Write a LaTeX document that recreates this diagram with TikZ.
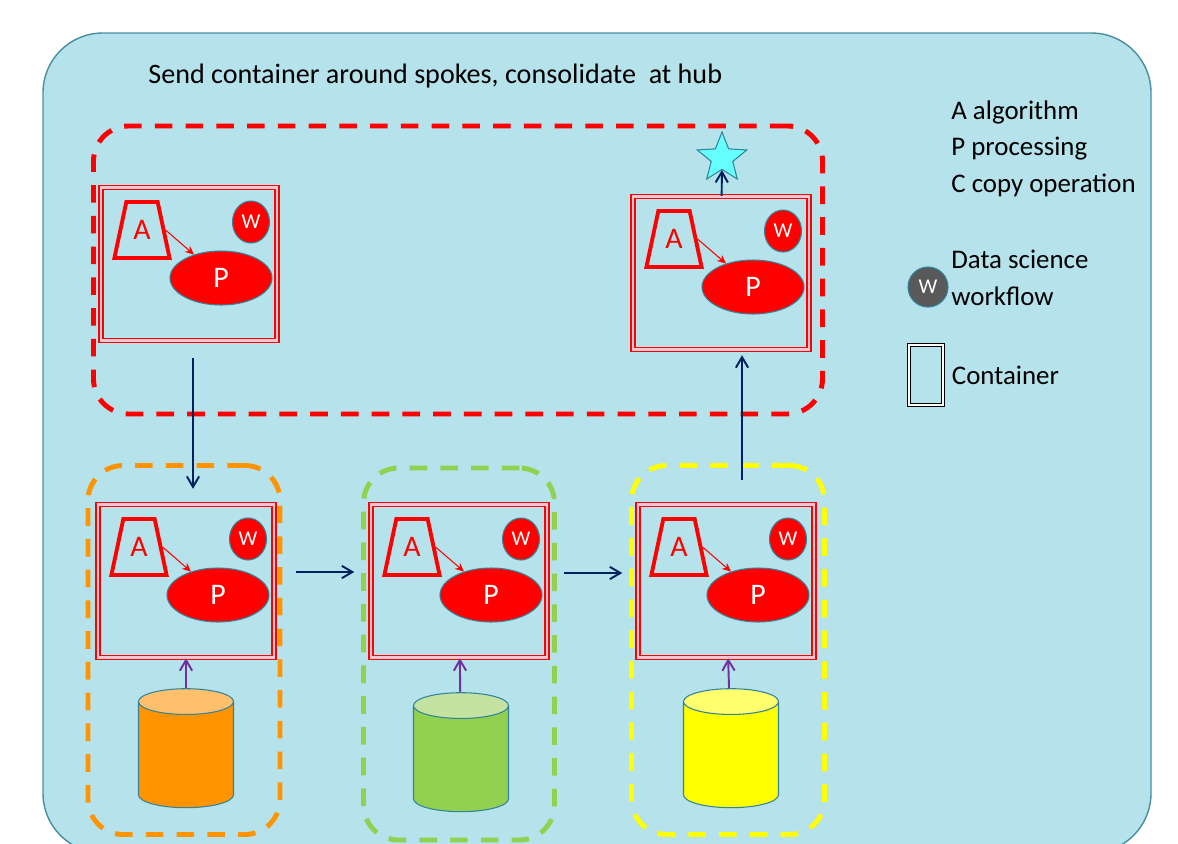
\documentclass[tikz,border=0pt]{standalone}
\usepackage{fontspec}
\setmainfont{Carlito}
\usetikzlibrary{
    shapes.geometric,
    arrows.meta,
    calc,
    positioning,
}
\definecolor{panelblue}{RGB}{181,226,235}
\definecolor{panelline}{RGB}{70,142,162}
\definecolor{tealline}{RGB}{49,132,155}
\definecolor{pinkgap}{RGB}{236,200,212}
\definecolor{navyarrow}{RGB}{0,32,96}
\definecolor{purplearrow}{RGB}{112,48,160}
\definecolor{spokeorange}{RGB}{255,148,0}
\definecolor{spokegreen}{RGB}{146,208,80}
\definecolor{spokeyellow}{RGB}{255,255,0}
\definecolor{goalcyan}{RGB}{102,255,255}
\definecolor{wgrey}{RGB}{89,89,89}
\newcommand{\px}{0.02cm}
\newcommand{\contwidth}{176*\px}
\newcommand{\contheight}{153*\px}
\tikzstyle{panel} = [
  draw=panelline,
  fill=panelblue,
  line width=0.8pt,
  rounded corners=34pt,
  minimum width=1108*\px,
  minimum height=820*\px,
]
\tikzstyle{frame} = [
  draw,
  line width=2.8pt,
  dash pattern=on 10pt off 7.5pt,
  rounded corners=20pt,
]
\tikzstyle{container} = [
  draw=red,
  double=pinkgap,
  double distance=1.4pt,
  line width=0.8pt,
  minimum width=\contwidth,
  minimum height=\contheight,
  inner sep=0pt,
]
\tikzstyle{algo} = [
  draw=red,
  line width=2.2pt,
  shape=trapezium,
  trapezium left angle=78,
  trapezium right angle=78,
  inner xsep=4pt,
  inner ysep=10.5pt,
  text=red,
  font=\fontsize{17}{17}\selectfont,
]
\tikzstyle{proc} = [
  shape=ellipse,
  fill=red,
  draw=tealline,
  line width=0.6pt,
  minimum width=102*\px,
  minimum height=54*\px,
  text=white,
  font=\fontsize{17}{17}\selectfont,
]
\tikzstyle{wflow} = [
  shape=ellipse,
  fill=red,
  draw=tealline,
  line width=0.6pt,
  inner sep=0pt,
  minimum width=37*\px,
  minimum height=42*\px,
  text=white,
  font=\fontsize{12}{12}\selectfont,
]
\tikzstyle{dbase} = [
  draw=tealline,
  line width=0.6pt,
  shape=cylinder,
  shape border rotate=90,
  aspect=2.2,
  cylinder uses custom fill,
  minimum width=95*\px,
  minimum height=119*\px,
]
\tikzstyle{goal} = [
  draw=tealline,
  fill=goalcyan,
  line width=0.6pt,
  shape=star,
  star points=5,
  star point ratio=2.3,
  minimum size=52*\px,
  inner sep=0pt,
]
\tikzstyle{algoarrow} = [-{Stealth[length=5pt,width=4.5pt]}, red, line width=0.6pt]
\tikzstyle{flowarrow} = [-{Straight Barb[length=6pt,width=7pt]}, navyarrow, line width=1.1pt]
\tikzstyle{dataarrow} = [-{Straight Barb[length=6pt,width=7pt]}, purplearrow, line width=1.1pt]
\tikzstyle{legendtext} = [align=left, inner sep=0pt, font=\fontsize{15.3}{21}\selectfont]
% container with algorithm, processing and workflow inside
\newcommand{\contbox}[3]{%
  \node[container] (#1) at (#2,#3) {};
  \node[algo] (#1-a) at ($(#1.center)+(-47,-34)$) {A};
  \node[proc] (#1-p) at ($(#1.center)+(32,14)$) {P};
  \node[wflow] (#1-w) at ($(#1.center)+(62,-42)$) {W};
  \draw[algoarrow] (#1-a.east) -- (#1-p);
}

\begin{document}
\begin{tikzpicture}[x=0.02cm, y=-0.02cm]
    \useasboundingbox (0,0) rectangle (1178,843);
    \clip (0,0) rectangle (1178,843);
    \node[panel] (panel) at (597,443) {};
    \node[legendtext, anchor=west, font=\fontsize{16}{20}\selectfont] (title) at (148,76)
      {Send container around spokes, consolidate\ \ at hub};

    % hub and spokes
    \node[frame, draw=red, minimum width=729*\px, minimum height=288*\px] (hub) at (458,270) {};
    \node[frame, draw=spokeorange, minimum width=192*\px, minimum height=369*\px] (spokeaframe) at (184,650) {};
    \node[frame, draw=spokegreen, minimum width=191*\px, minimum height=372*\px] (spokebframe) at (459,654) {};
    \node[frame, draw=spokeyellow, minimum width=193*\px, minimum height=369*\px] (spokecframe) at (728,650) {};

    \contbox{hubin}{189}{264}
    \contbox{hubout}{721}{273}
    \contbox{spokea}{186}{581}
    \contbox{spokeb}{459}{581}
    \contbox{spokec}{726}{581}

    \node[dbase, cylinder body fill=spokeorange, cylinder end fill={rgb,255:red,255;green,191;blue,107}] (dba) at (186,758) {};
    \node[dbase, cylinder body fill=spokegreen, cylinder end fill={rgb,255:red,196;green,227;blue,160}] (dbb) at (461,762) {};
    \node[dbase, cylinder body fill=spokeyellow, cylinder end fill={rgb,255:red,255;green,255;blue,110}] (dbc) at (731,758) {};
    \node[goal] (star) at (722,158) {};

    \draw[dataarrow] (dba) -- (spokea);
    \draw[dataarrow] (dbb) -- (spokeb);
    \draw[dataarrow] (dbc) -- (spokec);
    \draw[flowarrow] ($(hubin.south)+(4,17)$) -- ($(hubin.south |- spokea.north)+(4,-15)$);
    \draw[flowarrow] ($(spokea.east)+(21,-9)$) -- ($(spokeb.west)+(-16,-9)$);
    \draw[flowarrow] ($(spokeb.east)+(16,-8)$) -- ($(spokec.west)+(-15,-8)$);
    \draw[flowarrow] ($(spokec.north)+(16,-24)$) -- ($(hubout.south)+(21,5)$);
    \draw[flowarrow] (hubout) -- (star);

    % legend
    \node[legendtext, anchor=north west] (lnames) at (951,100)
      {A algorithm\\P processing\\C copy operation};
    \node[wflow, fill=wgrey, minimum width=40*\px, minimum height=40*\px] (lwflow) at (928,287) {W};
    \node[legendtext, anchor=north west] (lwtext) at (951,250)
      {Data science\\workflow};
    \node[draw=black, double=white, double distance=1.4pt, line width=0.7pt,
      minimum width=34*\px, minimum height=60*\px] (lcont) at (926,375) {};
    \node[legendtext, right=8*\px of lcont] (lconttext) {Container};
\end{tikzpicture}
\end{document}
